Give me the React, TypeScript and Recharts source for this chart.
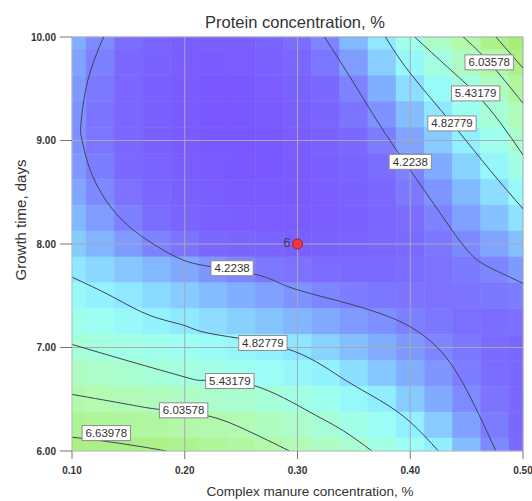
import React from 'react';
import {
  ComposedChart,
  XAxis,
  YAxis,
  ReferenceArea,
  ReferenceLine,
  Line,
  Scatter
} from 'recharts';

const FONT = '"Liberation Sans", Arial, sans-serif';

// Response surface sample grid: manure concentration (%) x growth time (days)
const manureGrid = [0.1, 0.125, 0.15, 0.175, 0.2, 0.225, 0.25, 0.275, 0.3, 0.325, 0.35, 0.375, 0.4, 0.425, 0.45, 0.475, 0.5];
const daysGrid = [10, 9.75, 9.5, 9.25, 9, 8.75, 8.5, 8.25, 8, 7.75, 7.5, 7.25, 7, 6.75, 6.5, 6.25, 6];

// Predicted protein (%), one row per growth time, top row = 10 days
const proteinRows = [
  [4.45, 4.25, 4.03, 3.88, 3.78, 3.75, 3.78, 3.87, 4.02, 4.22, 4.51, 4.78, 5.25, 5.72, 6.15, 6.62, 7.05],
  [4.38, 4.17, 3.97, 3.83, 3.74, 3.70, 3.72, 3.79, 3.92, 4.10, 4.35, 4.63, 4.97, 5.35, 5.76, 6.18, 6.68],
  [4.33, 4.11, 3.92, 3.78, 3.69, 3.65, 3.66, 3.72, 3.83, 3.98, 4.19, 4.45, 4.72, 5.03, 5.38, 5.80, 6.27],
  [4.29, 4.08, 3.91, 3.78, 3.69, 3.65, 3.65, 3.69, 3.77, 3.90, 4.08, 4.29, 4.53, 4.78, 5.10, 5.46, 5.91],
  [4.27, 4.09, 3.91, 3.78, 3.69, 3.63, 3.62, 3.65, 3.72, 3.82, 3.97, 4.16, 4.38, 4.61, 4.84, 5.20, 5.60],
  [4.32, 4.15, 3.98, 3.85, 3.75, 3.68, 3.65, 3.66, 3.70, 3.77, 3.88, 4.03, 4.20, 4.43, 4.66, 4.93, 5.30],
  [4.40, 4.24, 4.06, 3.92, 3.81, 3.74, 3.69, 3.68, 3.70, 3.76, 3.84, 3.96, 4.12, 4.30, 4.51, 4.72, 5.00],
  [4.50, 4.35, 4.17, 4.02, 3.90, 3.81, 3.75, 3.72, 3.72, 3.76, 3.82, 3.91, 4.03, 4.19, 4.37, 4.56, 4.75],
  [4.62, 4.48, 4.34, 4.20, 4.07, 3.97, 3.89, 3.85, 3.82, 3.83, 3.85, 3.91, 3.99, 4.10, 4.24, 4.39, 4.54],
  [4.78, 4.68, 4.59, 4.50, 4.41, 4.31, 4.21, 4.12, 4.06, 4.01, 3.99, 3.99, 4.02, 4.06, 4.13, 4.22, 4.33],
  [5.00, 4.87, 4.78, 4.70, 4.61, 4.53, 4.45, 4.37, 4.29, 4.21, 4.15, 4.10, 4.07, 4.06, 4.07, 4.10, 4.15],
  [5.23, 5.12, 5.00, 4.89, 4.79, 4.72, 4.64, 4.57, 4.49, 4.42, 4.34, 4.27, 4.18, 4.10, 4.04, 4.02, 4.05],
  [5.47, 5.38, 5.29, 5.21, 5.12, 5.04, 4.95, 4.87, 4.77, 4.66, 4.55, 4.44, 4.33, 4.22, 4.10, 4.01, 3.98],
  [5.78, 5.68, 5.58, 5.48, 5.38, 5.28, 5.17, 5.07, 4.96, 4.86, 4.73, 4.59, 4.45, 4.31, 4.15, 4.02, 3.95],
  [6.11, 6.03, 5.94, 5.84, 5.75, 5.65, 5.56, 5.47, 5.34, 5.16, 4.98, 4.82, 4.62, 4.43, 4.25, 4.08, 3.94],
  [6.47, 6.39, 6.32, 6.24, 6.17, 6.09, 5.99, 5.82, 5.65, 5.48, 5.28, 5.07, 4.85, 4.61, 4.37, 4.14, 3.96],
  [6.83, 6.77, 6.72, 6.66, 6.55, 6.41, 6.28, 6.14, 5.98, 5.77, 5.56, 5.34, 5.09, 4.83, 4.53, 4.24, 4.00]
];

// Contour polylines, one per level branch
const contour4223Low = [
  { x: 0.128, y: 10 }, { x: 0.114, y: 9.58 }, { x: 0.108, y: 9.17 }, { x: 0.109, y: 9.0 },
  { x: 0.1185, y: 8.65 }, { x: 0.142, y: 8.26 }, { x: 0.172, y: 8.0 }, { x: 0.1985, y: 7.845 },
  { x: 0.224, y: 7.78 }, { x: 0.259, y: 7.715 }, { x: 0.2785, y: 7.65 }, { x: 0.2993, y: 7.56 },
  { x: 0.338, y: 7.445 }, { x: 0.373, y: 7.33 }, { x: 0.4, y: 7.2 }, { x: 0.424, y: 7.0 },
  { x: 0.447, y: 6.65 }, { x: 0.476, y: 6.0 }
];
const contour4223High = [
  { x: 0.324, y: 10 }, { x: 0.353, y: 9.5 }, { x: 0.382, y: 9.0 }, { x: 0.4207, y: 8.39 },
  { x: 0.4505, y: 7.94 }, { x: 0.471, y: 7.77 }, { x: 0.5, y: 7.62 }
];
const contour4828Low = [
  { x: 0.1, y: 7.68 }, { x: 0.136, y: 7.49 }, { x: 0.169, y: 7.31 }, { x: 0.199, y: 7.215 },
  { x: 0.225, y: 7.13 }, { x: 0.29, y: 6.99 }, { x: 0.338, y: 6.715 }, { x: 0.373, y: 6.49 },
  { x: 0.4, y: 6.28 }, { x: 0.425, y: 6.0 }
];
const contour4828High = [
  { x: 0.378, y: 10 }, { x: 0.4, y: 9.65 }, { x: 0.437, y: 9.165 }, { x: 0.471, y: 8.71 }, { x: 0.5, y: 8.34 }
];
const contour5432Low = [
  { x: 0.1, y: 7.03 }, { x: 0.15, y: 6.87 }, { x: 0.2, y: 6.715 }, { x: 0.219, y: 6.683 },
  { x: 0.261, y: 6.634 }, { x: 0.311, y: 6.376 }, { x: 0.34, y: 6.2 }, { x: 0.366, y: 6.0 }
];
const contour5432High = [
  { x: 0.404, y: 10 }, { x: 0.433, y: 9.71 }, { x: 0.458, y: 9.455 }, { x: 0.48, y: 9.17 }, { x: 0.5, y: 8.86 }
];
const contour6036Low = [
  { x: 0.1, y: 6.547 }, { x: 0.15, y: 6.45 }, { x: 0.179, y: 6.4 }, { x: 0.219, y: 6.344 },
  { x: 0.255, y: 6.2 }, { x: 0.293, y: 6.0 }
];
const contour6036High = [{ x: 0.447, y: 10 }, { x: 0.47, y: 9.755 }, { x: 0.5, y: 9.36 }];
const contour6640Low = [{ x: 0.1, y: 6.134 }, { x: 0.142, y: 6.075 }, { x: 0.184, y: 6.0 }];
const contour6640High = [{ x: 0.476, y: 10 }, { x: 0.5, y: 9.7 }];

const contours = [
  contour4223Low, contour4223High, contour4828Low, contour4828High, contour5432Low,
  contour5432High, contour6036Low, contour6036High, contour6640Low, contour6640High
];

const contourLabels = [
  { x: 0.47, y: 9.755, text: '6.03578' },
  { x: 0.458, y: 9.455, text: '5.43179' },
  { x: 0.437, y: 9.165, text: '4.82779' },
  { x: 0.4, y: 8.794, text: '4.2238' },
  { x: 0.242, y: 7.766, text: '4.2238' },
  { x: 0.2693, y: 7.044, text: '4.82779' },
  { x: 0.24, y: 6.676, text: '5.43179' },
  { x: 0.199, y: 6.393, text: '6.03578' },
  { x: 0.1304, y: 6.173, text: '6.63978' }
];

// Centre point of the design, with its replicate count
const designPoints = [{ x: 0.3, y: 8, runs: 6 }];

const xTicks = [0.1, 0.2, 0.3, 0.4, 0.5];
const yTicks = [6, 7, 8, 9, 10];

// value -> colour ramp (violet low, cyan mid, green high)
const colorStops: [number, number, number, number][] = [
  [3.6, 121, 86, 255],
  [4.0, 123, 106, 255],
  [4.22, 125, 134, 255],
  [4.5, 130, 184, 255],
  [4.83, 145, 240, 255],
  [5.1, 156, 255, 244],
  [5.43, 166, 255, 218],
  [6.04, 180, 250, 176],
  [6.64, 172, 242, 138],
  [7.1, 168, 236, 118]
];

function proteinColor(v: number) {
  if (v <= colorStops[0][0]) return `rgb(${colorStops[0].slice(1).join(',')})`;
  for (let i = 1; i < colorStops.length; i++) {
    const [v1, r1, g1, b1] = colorStops[i];
    if (v <= v1) {
      const [v0, r0, g0, b0] = colorStops[i - 1];
      const t = (v - v0) / (v1 - v0);
      const r = Math.round(r0 + (r1 - r0) * t);
      const g = Math.round(g0 + (g1 - g0) * t);
      const b = Math.round(b0 + (b1 - b0) * t);
      return `rgb(${r},${g},${b})`;
    }
  }
  const last = colorStops[colorStops.length - 1];
  return `rgb(${last.slice(1).join(',')})`;
}

const halfX = (manureGrid[1] - manureGrid[0]) / 2;
const halfY = (daysGrid[0] - daysGrid[1]) / 2;

const cells = proteinRows.flatMap((row, j) =>
  row.map((v, i) => {
    const x = manureGrid[i];
    const y = daysGrid[j];
    return {
      key: `${i}-${j}`,
      x1: Math.max(0.1, x - halfX),
      x2: Math.min(0.5, x + halfX),
      y1: Math.max(6, y - halfY),
      y2: Math.min(10, y + halfY),
      fill: proteinColor(v)
    };
  })
);

const renderContourLabel = (props: any) => {
  const { cx, cy, payload } = props;
  const w = payload.text.length * 6.2 + 5;
  return (
    <g>
      <rect x={cx - w / 2} y={cy - 7.5} width={w} height={15} fill="#ffffff" stroke="#8c8c8c" strokeWidth={1} />
      <text x={cx} y={cy + 4} textAnchor="middle" fontSize={11.5} fontFamily={FONT} fill="#333333">
        {payload.text}
      </text>
    </g>
  );
};

const renderDesignPoint = (props: any) => {
  const { cx, cy, payload } = props;
  return (
    <g>
      <text x={cx - 7} y={cy + 3} textAnchor="end" fontSize={13} fontFamily={FONT} fill="#3a3a5c">
        {payload.runs}
      </text>
      <circle cx={cx} cy={cy} r={5} fill="#f2383c" stroke="#a01c22" strokeWidth={1} />
    </g>
  );
};

const gridColor = '#a9a9b3';

export default function App() {
  return (
    <div style={{ position: 'absolute', left: 0, top: 0, width: 532, height: 501, background: '#ffffff', fontFamily: FONT }}>
      <div style={{ position: 'absolute', left: 295, top: 22, transform: 'translate(-50%, -50%)', fontSize: 16.5, color: '#333', whiteSpace: 'nowrap' }}>
        Protein concentration, %
      </div>
      <div style={{ position: 'absolute', left: 310, top: 491, transform: 'translate(-50%, -50%)', fontSize: 13.5, color: '#333', whiteSpace: 'nowrap' }}>
        Complex manure concentration, %
      </div>
      <div style={{ position: 'absolute', left: 20, top: 220, transform: 'translate(-50%, -50%) rotate(-90deg)', fontSize: 15, color: '#333', whiteSpace: 'nowrap' }}>
        Growth time, days
      </div>
      <ComposedChart width={532} height={501} margin={{ top: 37, right: 9, bottom: 10, left: 0 }}>
        <XAxis
          dataKey="x"
          type="number"
          domain={[0.1, 0.5]}
          ticks={xTicks}
          allowDataOverflow
          height={40}
          tickFormatter={(v: number) => v.toFixed(2)}
          tick={{ fontSize: 10, fill: '#333', fontWeight: 'bold', fontFamily: FONT }}
          tickSize={8}
          tickMargin={8}
          axisLine={{ stroke: '#b8b8c0' }}
          tickLine={{ stroke: '#777' }}
        />
        <YAxis
          dataKey="y"
          type="number"
          domain={[6, 10]}
          ticks={yTicks}
          allowDataOverflow
          width={72}
          tickFormatter={(v: number) => v.toFixed(2)}
          tick={{ fontSize: 10, fill: '#333', fontWeight: 'bold', fontFamily: FONT }}
          tickSize={12}
          tickMargin={4}
          axisLine={{ stroke: '#b8b8c0' }}
          tickLine={{ stroke: '#777' }}
        />
        {cells.map(c => (
          <ReferenceArea
            key={c.key}
            x1={c.x1}
            x2={c.x2}
            y1={c.y1}
            y2={c.y2}
            fill={c.fill}
            fillOpacity={1}
            stroke={c.fill}
            strokeWidth={0.6}
          />
        ))}
        {[0.2, 0.3, 0.4, 0.5].map(v => (
          <ReferenceLine key={`gx${v}`} x={v} stroke={gridColor} strokeWidth={1} />
        ))}
        {[7, 8, 9, 10].map(v => (
          <ReferenceLine key={`gy${v}`} y={v} stroke={gridColor} strokeWidth={1} />
        ))}
        {contours.map((pts, i) => (
          <Line
            key={`c${i}`}
            data={pts}
            dataKey="y"
            type="natural"
            stroke="#40405a"
            strokeWidth={1}
            dot={false}
            activeDot={false}
            isAnimationActive={false}
          />
        ))}
        <Scatter data={contourLabels} dataKey="y" shape={renderContourLabel} isAnimationActive={false} />
        <Scatter data={designPoints} dataKey="y" shape={renderDesignPoint} isAnimationActive={false} />
      </ComposedChart>
    </div>
  );
}
